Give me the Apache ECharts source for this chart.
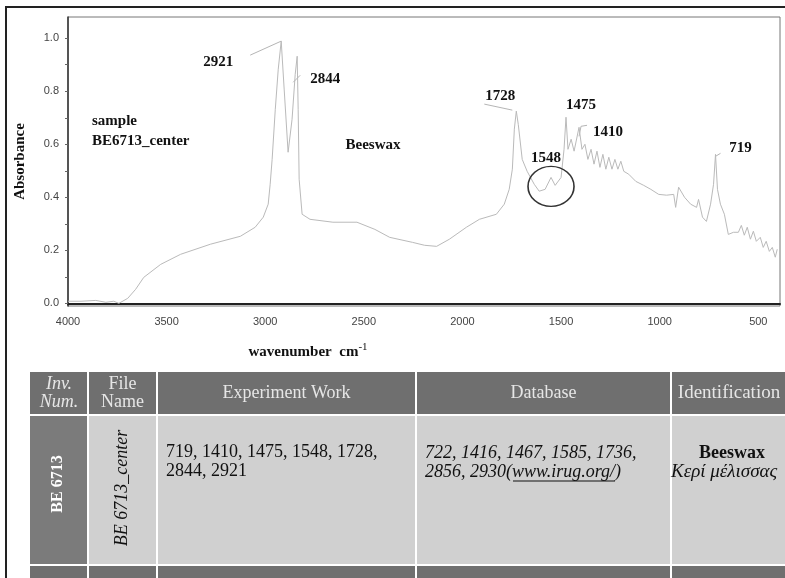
<!DOCTYPE html>
<html><head><meta charset="utf-8">
<script src="https://cdn.jsdelivr.net/npm/echarts@6/dist/echarts.min.js"></script>
<style>html,body{margin:0;padding:0;background:#fff}#c{width:785px;height:578px}</style>
</head><body><div id="c"></div>
<script>
// ---- data ----
const wavenumbers = [4000,3934,3859,3808,3768,3742,3697,3657,3616,3530,3429,3278,3126,3051,3010,2985,2975,2965,2949,2934,2919,2904,2884,2864,2848,2838,2833,2828,2813,2773,2657,2535,2444,2369,2253,2192,2131,2066,1980,1914,1828,1788,1763,1747,1737,1727,1717,1697,1672,1636,1611,1581,1551,1530,1500,1485,1475,1465,1449,1434,1409,1394,1379,1364,1348,1333,1318,1303,1288,1273,1258,1242,1227,1212,1197,1182,1157,1121,1081,1045,1005,965,929,919,904,874,843,813,803,783,763,742,727,717,707,692,672,652,626,601,586,571,556,540,525,510,490,475,460,444,429,414,404];
const absorbance = [0.008,0.008,0.011,0.004,0.008,0.0,0.019,0.053,0.098,0.147,0.185,0.223,0.253,0.287,0.325,0.374,0.449,0.543,0.732,0.883,0.989,0.808,0.570,0.694,0.864,0.932,0.732,0.468,0.336,0.317,0.306,0.306,0.279,0.249,0.230,0.219,0.215,0.242,0.287,0.317,0.336,0.374,0.430,0.506,0.657,0.725,0.675,0.543,0.498,0.449,0.423,0.430,0.475,0.445,0.475,0.581,0.702,0.581,0.619,0.574,0.664,0.581,0.600,0.543,0.581,0.525,0.574,0.513,0.562,0.506,0.551,0.506,0.543,0.506,0.536,0.498,0.487,0.460,0.445,0.430,0.411,0.408,0.411,0.362,0.438,0.400,0.374,0.362,0.392,0.325,0.309,0.374,0.449,0.562,0.430,0.374,0.336,0.260,0.268,0.268,0.294,0.257,0.287,0.242,0.272,0.234,0.249,0.211,0.234,0.196,0.211,0.174,0.204];
const peaks = [2921, 2844, 1728, 1548, 1475, 1410, 719];
const circledPeak = 1548;
const xTicks = [4000, 3500, 3000, 2500, 2000, 1500, 1000, 500];
const yTicks = [0, 0.2, 0.4, 0.6, 0.8, 1.0];
const yMinorTicks = [0, 0.1, 0.2, 0.3, 0.4, 0.5, 0.6, 0.7, 0.8, 0.9, 1.0];
const sampleName = 'sample\nBE6713_center';
const materialName = 'Beeswax';
const xAxisTitle = 'wavenumber  cm';
const yAxisTitle = 'Absorbance';
const tableHeaders = ['Inv.\nNum.', 'File\nName', 'Experiment Work', 'Database', 'Identification'];
const invNumber = 'BE 6713';
const fileName = 'BE 6713_center';
const experimentPeaks = [719, 1410, 1475, 1548, 1728, 2844, 2921];
const databasePeaks = [722, 1416, 1467, 1585, 1736, 2856, 2930];
const databaseSource = 'www.irug.org/';
const identification = ['Beeswax', 'Κερί μέλισσας'];

// ---- styles ----
const serif = '"Liberation Serif"';
const sans = '"Liberation Sans"';
const F = (style, size) => ({fontFamily: serif, fontSize: size,
  fontWeight: style === 'bold' ? 'bold' : 'normal', fontStyle: style === 'italic' ? 'italic' : 'normal'});
const labelOffsets = {2921:[-63,21], 2844:[30,5], 1728:[-16,-15], 1548:[-5,-19], 1475:[15,-12], 1410:[29,5], 719:[25,-6]};

const chart = echarts.init(document.getElementById('c'), null, {renderer: 'canvas'});
const data = wavenumbers.map((w, i) => [w, absorbance[i]]);
function nearest(p) {
  let b = 0;
  for (let i = 1; i < wavenumbers.length; i++) if (Math.abs(wavenumbers[i] - p) < Math.abs(wavenumbers[b] - p)) b = i;
  return b;
}

const markData = peaks.map(p => ({
  coord: data[nearest(p)], symbol: 'circle', symbolSize: 1,
  itemStyle: {color: 'rgba(0,0,0,0)'},
  label: {show: true, position: 'inside', formatter: String(p), offset: labelOffsets[p],
    color: '#111', fontFamily: serif, fontWeight: 'bold', fontSize: 15}
}));
markData.push({
  coord: data[nearest(circledPeak)], symbol: 'circle', symbolSize: [46, 40], symbolOffset: [0, 9],
  itemStyle: {color: 'rgba(0,0,0,0)', borderColor: '#333', borderWidth: 1.5},
  label: {show: false}
});

chart.setOption({
  animation: false,
  backgroundColor: '#fff',
  grid: {left: 68, top: 17, width: 712, height: 289, show: true, borderColor: '#777', borderWidth: 1, backgroundColor: 'transparent'},
  xAxis: {
    type: 'value', inverse: true, min: 390, max: 4000,
    axisLine: {lineStyle: {color: '#222', width: 2}},
    axisTick: {show: false},
    splitLine: {show: false},
    axisLabel: {customValues: xTicks, formatter: v => String(v), color: '#444', fontFamily: sans, fontSize: 11, margin: 10}
  },
  yAxis: {
    type: 'value', min: -0.01, max: 1.08,
    name: yAxisTitle, nameLocation: 'middle', nameRotate: 90, nameGap: 40,
    nameTextStyle: {fontFamily: serif, fontWeight: 'bold', fontSize: 15, color: '#111'},
    axisLine: {show: true, lineStyle: {color: '#333', width: 1.5}},
    axisTick: {show: true, customValues: yMinorTicks, length: 3, lineStyle: {color: '#666'}},
    splitLine: {show: false},
    axisLabel: {customValues: yTicks, formatter: v => v.toFixed(1), color: '#444', fontFamily: sans, fontSize: 11, margin: 9}
  },
  series: [{
    type: 'line', data: data, showSymbol: false, silent: true,
    lineStyle: {color: '#bababa', width: 1},
    markPoint: {silent: true, data: markData}
  }]
});

// ---- annotations & table ----
const g = [];
const px = p => chart.convertToPixel({seriesIndex: 0}, data[nearest(p)]);
function leader(p, pts) {
  const o = px(p);
  g.push({type: 'polyline', silent: true, shape: {points: pts.map(d => [o[0] + d[0], o[1] + d[1]])},
    style: {stroke: '#b5b5b5', lineWidth: 1, fill: null}});
}
leader(2921, [[-31, 14], [0, 0]]);
leader(2844, [[-2, 8], [5, 1]]);
leader(1728, [[-32, -7], [-4, -1]]);
leader(1410, [[0, 9], [2, -1], [8, -2]]);
leader(719, [[0, 2], [5, -1]]);

function txt(x, y, text, fontStyle, extra, rotation) {
  const el = {type: 'text', silent: true, x, y, style: Object.assign({text, fill: '#111', verticalAlign: 'middle'}, fontStyle, extra || {})};
  if (rotation) el.rotation = rotation;
  g.push(el);
}
// chart texts
txt(92, 131, sampleName, F('bold', 15), {lineHeight: 20});
txt(373, 145, materialName, F('bold', 15), {align: 'center'});
g.push({type: 'text', silent: true, x: 308, y: 352, style: {
  text: '{n|' + xAxisTitle + '}{s|-1}', align: 'center', verticalAlign: 'middle',
  rich: {n: {fontFamily: serif, fontWeight: 'bold', fontSize: 15, fill: '#111'}, s: {fontFamily: serif, fontSize: 11, fill: '#111', padding: [0, 0, 10, 0]}}
}});

// outer frame
g.push({type: 'polyline', silent: true, shape: {points: [[6, 578], [6, 7], [785, 7]]}, style: {stroke: '#222', lineWidth: 2, fill: null}});

// table
const colEdges = [30, 88, 157, 416, 671, 820];
const headRow = [372, 414], bodyRow = [416, 564], footRow = [566, 600];
const dark = '#6f6f6f', mid = '#7b7b7b', light = '#d0d0d0';
function rect(x1, y1, x2, y2, fill) { g.push({type: 'rect', silent: true, shape: {x: x1, y: y1, width: x2 - x1, height: y2 - y1}, style: {fill}}); }
for (let i = 0; i < 5; i++) {
  const x1 = colEdges[i] + (i ? 1 : 0), x2 = colEdges[i + 1] - 1;
  rect(x1, headRow[0], x2, headRow[1], dark);
  rect(x1, bodyRow[0], x2, bodyRow[1], i === 0 ? mid : light);
  rect(x1, footRow[0], x2, footRow[1], dark);
}
const hy = (headRow[0] + headRow[1]) / 2;
tableHeaders.forEach((h, i) => {
  const cx = i === 4 ? 729 : (colEdges[i] + colEdges[i + 1]) / 2;
  txt(cx, hy, h, F(i === 0 ? 'italic' : '', i === 4 ? 19 : 18), {fill: '#e6e6e6', align: 'center', lineHeight: 18});
});
const by = 488;
txt(58, by - 4, invNumber, F('bold', 16), {fill: '#fff', align: 'center'}, Math.PI / 2);
txt(122, by, fileName, F('italic', 18), {align: 'center'}, Math.PI / 2);
const expText = experimentPeaks.slice(0, 5).join(', ') + ',\n' + experimentPeaks.slice(5).join(', ');
txt(166, 462, expText, F('', 18), {lineHeight: 19});
const dbLine1 = databasePeaks.slice(0, 5).join(', ') + ',';
const dbLine2a = databasePeaks.slice(5).join(', ') + '(';
txt(425, 453, dbLine1, F('italic', 18));
const ctx = document.createElement('canvas').getContext('2d');
ctx.font = 'italic 18px "Liberation Serif"';
const w2a = ctx.measureText(dbLine2a).width;
const wUrl = ctx.measureText(databaseSource).width;
txt(425, 472, dbLine2a, F('italic', 18));
txt(425 + w2a, 472, databaseSource, F('italic', 18));
g.push({type: 'line', silent: true, shape: {x1: 425 + w2a + 1, y1: 481, x2: 425 + w2a + wUrl, y2: 481}, style: {stroke: '#111', lineWidth: 1}});
txt(425 + w2a + wUrl, 472, ')', F('italic', 18));
txt(732, 453, identification[0], F('bold', 18), {align: 'center'});
txt(671, 472, identification[1], F('italic', 19), {});

chart.setOption({graphic: g});
</script></body></html>
